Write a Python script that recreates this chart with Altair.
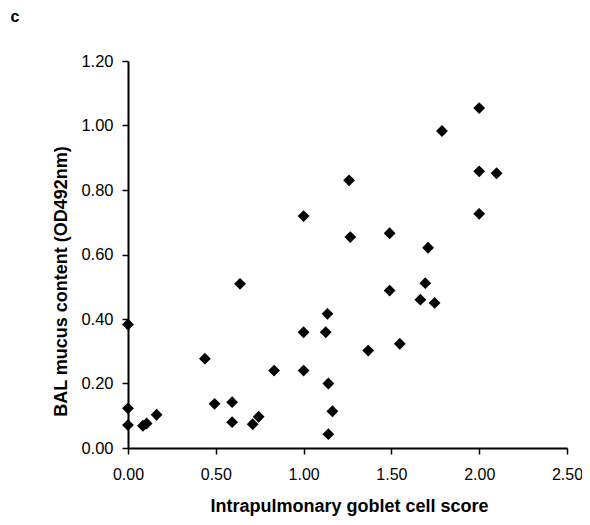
import altair as alt
import pandas as pd

goblet_score = [0.0, 0.0, 0.0, 0.085, 0.106, 0.163, 0.438, 0.493, 0.593, 0.593,
                0.638, 0.710, 0.744, 0.832, 1.0, 1.0, 1.0, 1.126, 1.136, 1.141,
                1.164, 1.141, 1.259, 1.266, 1.368, 1.49, 1.49, 1.548, 1.665, 1.693,
                1.709, 1.746, 1.788, 2.0, 2.0, 2.0, 2.099]
mucus_od = [0.383, 0.123, 0.071, 0.069, 0.076, 0.103, 0.277, 0.137, 0.142, 0.080,
            0.509, 0.074, 0.097, 0.240, 0.719, 0.359, 0.240, 0.359, 0.416, 0.200,
            0.114, 0.043, 0.830, 0.654, 0.302, 0.666, 0.488, 0.323, 0.460, 0.511,
            0.621, 0.450, 0.983, 1.054, 0.858, 0.726, 0.852]
x_ticks = [0.0, 0.5, 1.0, 1.5, 2.0, 2.5]
y_ticks = [0.0, 0.2, 0.4, 0.6, 0.8, 1.0, 1.2]
panel_label = ["c"]

df = pd.DataFrame({"score": goblet_score, "mucus": mucus_od})
FONT = "Liberation Sans"

points = alt.Chart(df).mark_point(
    shape="diamond", filled=True, color="black", size=140, opacity=1
).encode(
    x=alt.X("score:Q",
            scale=alt.Scale(domain=[0, 2.5], nice=False, zero=True),
            axis=alt.Axis(values=x_ticks, format=".2f", grid=False,
                          title="Intrapulmonary goblet cell score",
                          domainColor="black", domainWidth=2,
                          tickColor="black", tickWidth=1.5, tickSize=6,
                          labelFont=FONT, labelFontSize=16, labelColor="black",
                          labelPadding=12, labelFlush=False, labelOverlap=False,
                          titleFont=FONT, titleFontSize=18, titleFontWeight="bold",
                          titleColor="black", titleX=221, titleY=58,
                          titleBaseline="middle", titleAlign="center")),
    y=alt.Y("mucus:Q",
            scale=alt.Scale(domain=[0, 1.2], nice=False, zero=True),
            axis=alt.Axis(values=y_ticks, format=".2f", grid=False,
                          title="BAL mucus content (OD492nm)",
                          domainColor="black", domainWidth=2,
                          tickColor="black", tickWidth=1.5, tickSize=6,
                          labelFont=FONT, labelFontSize=16.5, labelColor="black",
                          labelPadding=9, labelFlush=False, labelOverlap=False,
                          titleFont=FONT, titleFontSize=18, titleFontWeight="bold",
                          titleColor="black", titleX=-67, titleY=220,
                          titleBaseline="middle", titleAlign="center",
                          titleAngle=270)),
)

label = alt.Chart(pd.DataFrame({"t": panel_label})).mark_text(
    font=FONT, fontSize=16, fontWeight="bold", color="black",
    align="center", baseline="middle"
).encode(text="t:N", x=alt.value(-113), y=alt.value(-44))

chart = alt.layer(points, label).properties(
    width=439, height=387,
    background="white",
    autosize=alt.AutoSizeParams(type="none"),
    padding={"left": 120, "top": 53, "right": 15, "bottom": 69},
).configure_view(stroke=None)

chart.save("out.html", embed_options={"renderer": "svg", "actions": False})
